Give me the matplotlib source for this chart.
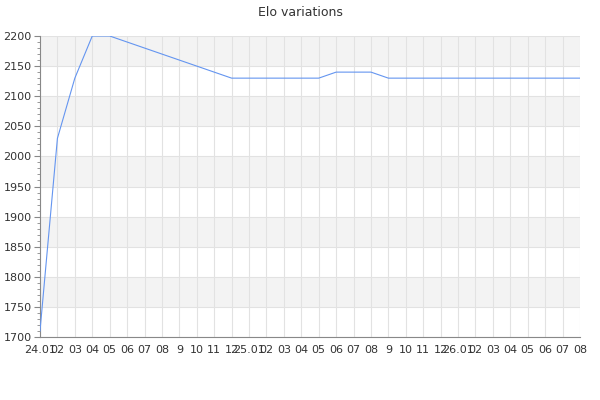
import matplotlib
matplotlib.use("Agg")
import matplotlib.pyplot as plt
from matplotlib.ticker import MultipleLocator

# tick labels along the x axis (one per game)
x_labels = ["24.01", "02", "03", "04", "05", "06", "07", "08", "9", "10", "11", "12",
            "25.01", "02", "03", "04", "05", "06", "07", "08", "9", "10", "11", "12",
            "26.01", "02", "03", "04", "05", "06", "07", "08"]

elo = [1710, 2030, 2130, 2200, 2200, 2190, 2180, 2170, 2160, 2150, 2140, 2130,
       2130, 2130, 2130, 2130, 2130, 2140, 2140, 2140, 2130, 2130, 2130, 2130,
       2130, 2130, 2130, 2130, 2130, 2130, 2130, 2130]

y_min, y_max, y_step = 1700, 2200, 50

fig = plt.figure(figsize=(6, 4), dpi=100)
ax = fig.add_axes([40 / 600, 1 - 337 / 400, 540 / 600, 301 / 400])

x = list(range(len(elo)))

# alternating grey bands
for i, lo in enumerate(range(y_min, y_max, y_step)):
    if i % 2 == 1:
        ax.axhspan(lo, lo + y_step, color="#f3f3f3", zorder=0, lw=0)

ax.plot(x, elo, color="#6495f0", lw=0.8, zorder=3)

ax.set_xlim(0, len(elo) - 1)
ax.set_ylim(y_min, y_max)
ax.set_xticks(x)
ax.set_xticklabels(x_labels)
ax.yaxis.set_major_locator(MultipleLocator(50))
ax.yaxis.set_minor_locator(MultipleLocator(10))

ax.grid(True, which="major", color="#e2e2e2", lw=0.8, zorder=1)
ax.set_axisbelow(True)

for side in ("top", "right"):
    ax.spines[side].set_visible(False)
for side in ("left", "bottom"):
    ax.spines[side].set_color("#888888")
    ax.spines[side].set_linewidth(0.8)

ax.tick_params(axis="x", length=0, pad=6, labelsize=8, labelcolor="#333333")
ax.tick_params(axis="y", which="major", length=4, width=0.8, color="#888888",
               pad=2, labelsize=8, labelcolor="#333333")
ax.tick_params(axis="y", which="minor", length=2, width=0.6, color="#888888")

fig.suptitle("Elo variations", y=0.985, fontsize=9, color="#333333")

fig.savefig("out.png", dpi=100)
